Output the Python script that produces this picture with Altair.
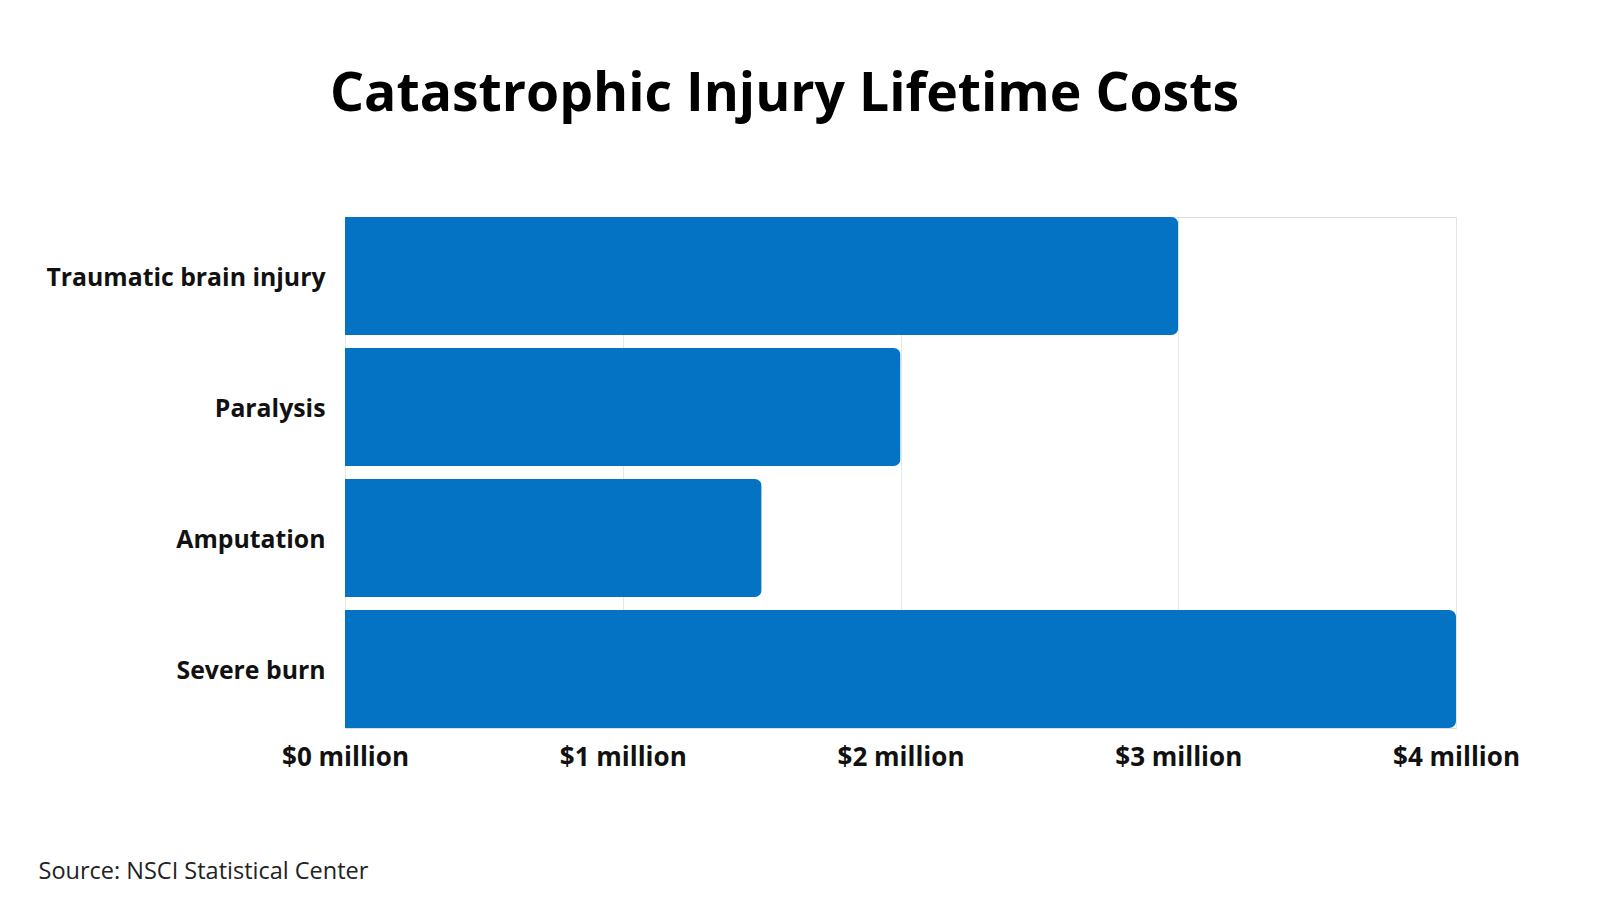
import altair as alt
import pandas as pd

categories = ["Traumatic brain injury", "Paralysis", "Amputation", "Severe burn"]
costs_million = [3.0, 2.0, 1.5, 4.0]
tick_values = [0, 1, 2, 3, 4]

df = pd.DataFrame({"injury": categories, "cost": costs_million})

FONT = "Open Sans"

chart = (
    alt.Chart(df)
    .mark_bar(color="#0473C4", cornerRadiusEnd=7)
    .encode(
        y=alt.Y(
            "injury:N",
            sort=categories,
            scale=alt.Scale(paddingInner=0.1, paddingOuter=0),
            axis=alt.Axis(
                title=None,
                ticks=False,
                domain=False,
                labelFont=FONT,
                labelFontSize=24.8,
                labelFontWeight="bold",
                labelColor="#111111",
                labelPadding=20,
                labelOffset=3,
                labelLimit=400,
            ),
        ),
        x=alt.X(
            "cost:Q",
            scale=alt.Scale(domain=[0, 4], nice=False),
            axis=alt.Axis(
                values=tick_values,
                labelExpr="'$' + datum.value + ' million'",
                ticks=False,
                domain=False,
                grid=True,
                gridColor="#e6e6e6",
                gridWidth=1,
                labelFont=FONT,
                labelFontSize=26,
                labelFontWeight="bold",
                labelColor="#111111",
                labelPadding=16,
                labelFlush=False,
                title="Source: NSCI Statistical Center",
                titleFont=FONT,
                titleFontSize=23.5,
                titleFontWeight="normal",
                titleColor="#222222",
                titleAnchor="start",
                titleAlign="left",
                titleX=-307,
                titleY=131,
            ),
        ),
    )
    .properties(
        width=1111,
        height=511,
        padding={"left": 337, "top": 209, "right": 136, "bottom": 164},
        autosize=alt.AutoSizeParams(type="none"),
        title=alt.TitleParams(
            "Catastrophic Injury Lifetime Costs",
            font=FONT,
            fontSize=53.5,
            fontWeight="bold",
            color="#000000",
            anchor="middle",
            dx=-116,
            offset=95,
        ),
    )
    .configure_view(stroke=None)
    .configure(background="white")
)

chart.save("out.html", embed_options={"renderer": "svg", "actions": False})
